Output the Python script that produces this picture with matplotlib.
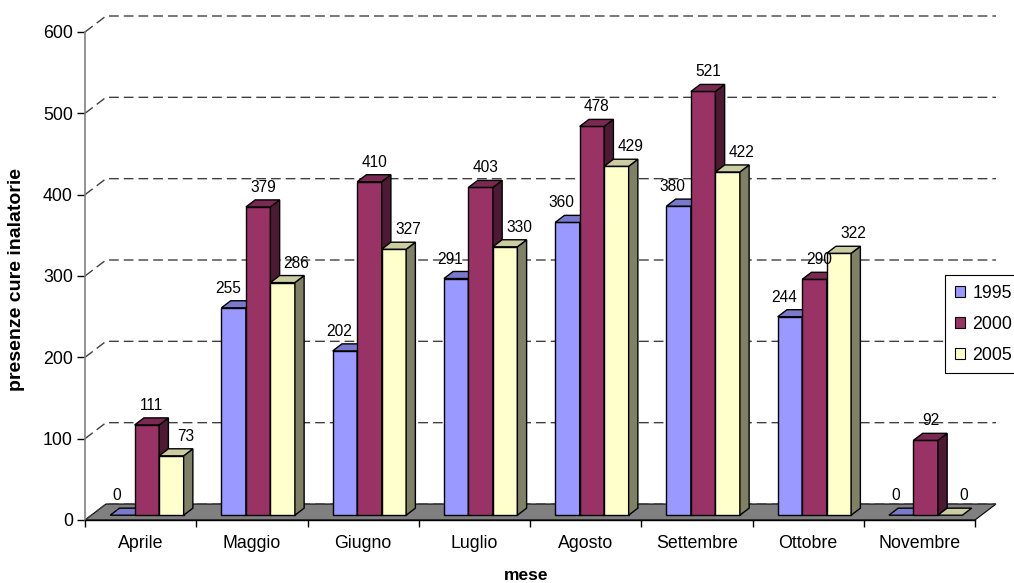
import matplotlib
matplotlib.use("Agg")
import matplotlib.pyplot as plt
from matplotlib.patches import Polygon, Rectangle
from matplotlib.colors import to_rgb

plt.rcParams["font.family"] = ["Liberation Sans", "DejaVu Sans"]

# ---- data -------------------------------------------------------------
months = ["Aprile", "Maggio", "Giugno", "Luglio", "Agosto",
          "Settembre", "Ottobre", "Novembre"]
years = ["1995", "2000", "2005"]
v1995 = [0, 255, 202, 291, 360, 380, 244, 0]
v2000 = [111, 379, 410, 403, 478, 521, 290, 92]
v2005 = [73, 286, 327, 330, 429, 422, 322, 0]
yticks = [0, 100, 200, 300, 400, 500, 600]

series = [v1995, v2000, v2005]
front_colors = ["#9999FF", "#993366", "#FFFFCC"]

# ---- figure geometry (pixels) ------------------------------------------
W, H = 1014, 583
DPI = 100
left_px, base_px = 85, 520          # front plane origin
cat_px = 890 / len(months)           # width of one category
unit_px = (520 - 32) / 600           # pixels per value unit
ymax = 622

wall_dx = 21 / cat_px                # depth of the chart box
wall_dy = 16 / unit_px
f0, f1 = 0.30, 0.74                  # bar depth extent inside the box
bar_w = 0.22
gap = (1 - 3 * bar_w) / 2


def shade(c, f):
    r, g, b = to_rgb(c)
    return (r * f, g * f, b * f)


fig = plt.figure(figsize=(W / DPI, H / DPI), dpi=DPI)
ax = fig.add_axes([left_px / W, (H - base_px) / H,
                   (len(months) + wall_dx) * cat_px / W, ymax * unit_px / H])
ax.set_xlim(0, len(months) + wall_dx)
ax.set_ylim(0, ymax)

# floor
n = len(months)
ax.add_patch(Polygon([(0, 0), (n, 0), (n + wall_dx, wall_dy), (wall_dx, wall_dy)],
                     closed=True, facecolor="#808080", edgecolor="black",
                     lw=0.8, zorder=1, clip_on=False))

# gridlines on side wall and back wall
for v in yticks:
    ax.plot([0, wall_dx, n + wall_dx], [v, v + wall_dy, v + wall_dy],
            ls=(0, (7, 3.6)), color="#404040", lw=1.0, zorder=2,
            clip_on=False)

# bars
ddx = (f1 - f0) * wall_dx
ddy = (f1 - f0) * wall_dy
b0 = f0 * wall_dy
label_dx_px = [-6, 5, 14]
z = 3
for i in range(n):
    for s, vals in enumerate(series):
        v = vals[i]
        x0 = i + gap + s * bar_w + f0 * wall_dx
        c = front_colors[s]
        kw = dict(edgecolor="black", lw=1.0, joinstyle="miter", clip_on=False)
        if v > 0:
            ax.add_patch(Rectangle((x0, b0), bar_w, v, facecolor=c,
                                   zorder=z, **kw))
            ax.add_patch(Polygon([(x0 + bar_w, b0), (x0 + bar_w + ddx, b0 + ddy),
                                  (x0 + bar_w + ddx, b0 + v + ddy),
                                  (x0 + bar_w, b0 + v)], closed=True,
                                 facecolor=shade(c, 0.5), zorder=z, **kw))
        ax.add_patch(Polygon([(x0, b0 + v), (x0 + bar_w, b0 + v),
                              (x0 + bar_w + ddx, b0 + v + ddy),
                              (x0 + ddx, b0 + v + ddy)], closed=True,
                             facecolor=shade(c, 0.8), zorder=z, **kw))
        z += 0.01
        ax.text(x0 + bar_w / 2 + label_dx_px[s] / cat_px,
                b0 + v + 19.5 / unit_px, str(v),
                ha="center", va="center", fontsize=11.2, zorder=20)

# axes
for side in ("top", "right"):
    ax.spines[side].set_visible(False)
ax.spines["left"].set_bounds(0, 600)
ax.spines["left"].set_color("#808080")
ax.spines["left"].set_linewidth(1.2)
ax.spines["bottom"].set_bounds(0, n)
ax.spines["bottom"].set_color("black")
ax.spines["bottom"].set_linewidth(1.0)
ax.spines["bottom"].set_zorder(2.5)

ax.set_yticks(yticks)
ax.set_yticklabels([str(t) for t in yticks])
ax.tick_params(axis="y", direction="out", length=5.8, width=1,
               color="black", labelsize=12.8, pad=3)
ax.set_xticks(range(n + 1))
ax.set_xticklabels([])
ax.set_xticks([i + 0.5 for i in range(n)], minor=True)
ax.set_xticklabels(months, minor=True)
ax.tick_params(axis="x", which="major", direction="out", length=5,
               width=1, color="black")
ax.tick_params(axis="x", which="minor", length=0, labelsize=12.8, pad=11)

fig.text(17 / W, 1 - 280 / H, "presenze cure inalatorie", rotation=90,
         fontweight="bold", fontsize=14, ha="center", va="center")
fig.text(526 / W, 1 - 575 / H, "mese", fontweight="bold", fontsize=12.5,
         ha="center", va="center")

handles = [Rectangle((0, 0), 1, 1, facecolor=c, edgecolor="black", lw=0.8)
           for c in front_colors]
leg = fig.legend(handles, years, loc="upper left",
                 bbox_to_anchor=(945 / W, 1 - 275 / H),
                 bbox_transform=fig.transFigure, fontsize=12.8,
                 frameon=True, fancybox=False, edgecolor="black",
                 borderpad=0.55, labelspacing=0.78, handlelength=0.58,
                 handleheight=0.58, handletextpad=0.4, borderaxespad=0)
leg.get_frame().set_linewidth(0.8)
leg.get_frame().set_alpha(1)

fig.savefig("out.png", dpi=DPI)
